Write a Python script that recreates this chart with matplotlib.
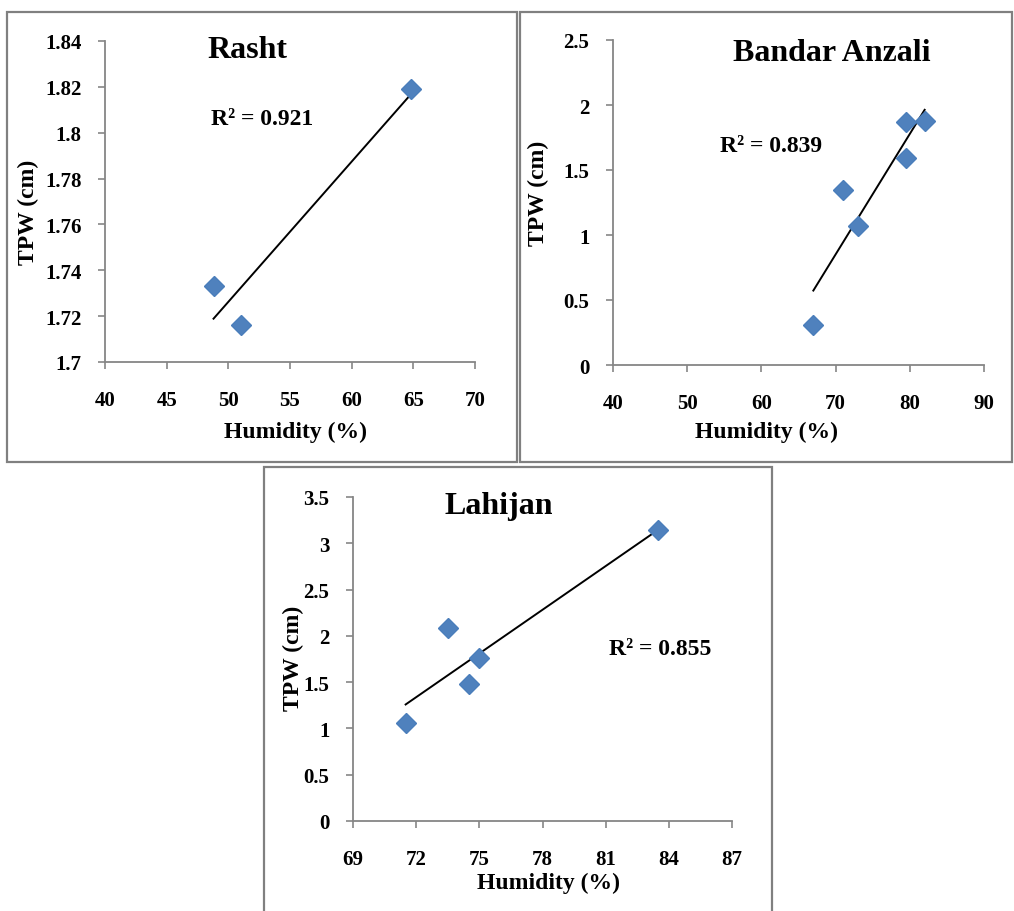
# coding=utf-8
# TPW vs humidity scatter panels with linear trendlines

import matplotlib
matplotlib.use('Agg')
import matplotlib.pyplot as plt
from matplotlib.patches import Rectangle
import numpy as np

plt.rcParams['font.family'] = ['Liberation Serif', 'DejaVu Serif']
plt.rcParams['font.weight'] = 'bold'

# data
rasht_hum = [48.8, 51.0, 64.8]
rasht_tpw = [1.733, 1.716, 1.819]

anzali_hum = [67.0, 71.0, 73.0, 79.5, 79.5, 82.0]
anzali_tpw = [0.31, 1.35, 1.07, 1.87, 1.59, 1.88]

lahijan_hum = [71.5, 73.5, 74.5, 75.0, 83.5]
lahijan_tpw = [1.06, 2.08, 1.48, 1.76, 3.14]

titles = ['Rasht', 'Bandar Anzali', 'Lahijan']
r2_labels = ['R² = 0.921', 'R² = 0.839', 'R² = 0.855']

rasht_xticks = [40, 45, 50, 55, 60, 65, 70]
rasht_yticks = [1.7, 1.72, 1.74, 1.76, 1.78, 1.8, 1.82, 1.84]
anzali_xticks = [40, 50, 60, 70, 80, 90]
anzali_yticks = [0, 0.5, 1, 1.5, 2, 2.5]
lahijan_xticks = [69, 72, 75, 78, 81, 84, 87]
lahijan_yticks = [0, 0.5, 1, 1.5, 2, 2.5, 3, 3.5]

W, H = 1014, 912
GRAY = '#868686'
BLUE = '#4F81BD'


def px_rect(x0, y0, x1, y1):
    """pixel box (top-left origin) -> figure fraction [l, b, w, h]"""
    return [x0 / W, 1 - y1 / H, (x1 - x0) / W, (y1 - y0) / H]


def draw_panel(fig, rect, hum, tpw, xticks, yticks, title, r2,
               title_pos, r2_pos, xlab_pos, ylab_pos):
    ax = fig.add_axes(rect)
    ax.plot(hum, tpw, linestyle='none', marker='D', markersize=10,
            color=BLUE, markeredgecolor='#4A7EBB', zorder=3)

    # linear trendline over the data range
    k, b = np.polyfit(hum, tpw, 1)
    xs = np.array([min(hum), max(hum)])
    ax.plot(xs, k * xs + b, color='black', lw=1.4, zorder=2)

    ax.set_xlim(xticks[0], xticks[-1])
    ax.set_ylim(yticks[0], yticks[-1])
    ax.set_xticks(xticks)
    ax.set_yticks(yticks)
    ax.set_xticklabels([('%g' % v) for v in xticks])
    ax.set_yticklabels([('%g' % v) for v in yticks])

    for s in ['top', 'right']:
        ax.spines[s].set_visible(False)
    for s in ['left', 'bottom']:
        ax.spines[s].set_color(GRAY)
        ax.spines[s].set_linewidth(1.3)
    ax.tick_params(axis='both', direction='out', length=5, width=1.2,
                   color=GRAY, labelsize=15)
    ax.tick_params(axis='x', pad=15)
    ax.tick_params(axis='y', pad=12)
    ax.patch.set_alpha(0)

    ax.text(title_pos[0], title_pos[1], title, transform=ax.transAxes,
            ha='center', va='center', fontsize=23, fontweight='bold')
    ax.text(r2_pos[0], r2_pos[1], r2, transform=ax.transAxes,
            ha='center', va='center', fontsize=17, fontweight='bold')
    ax.text(xlab_pos[0], xlab_pos[1], 'Humidity (%)', transform=ax.transAxes,
            ha='center', va='center', fontsize=17, fontweight='bold')
    ax.text(ylab_pos[0], ylab_pos[1], 'TPW (cm)', transform=ax.transAxes,
            ha='center', va='center', fontsize=17, fontweight='bold',
            rotation=90)
    return ax


fig = plt.figure(figsize=(W / 100, H / 100), dpi=100)

# outer gray frames of the three charts
for x0, y0, x1, y1 in [(7, 13, 517, 463), (520, 13, 1012, 463),
                       (264, 468, 772, 914)]:
    l, b, w, h = px_rect(x0, y0, x1, y1)
    fig.patches.append(Rectangle((l, b), w, h, transform=fig.transFigure,
                                 fill=False, edgecolor='#808080', lw=1.6))

draw_panel(fig, px_rect(105, 42, 475, 363), rasht_hum, rasht_tpw,
           rasht_xticks, rasht_yticks, titles[0], r2_labels[0],
           (0.384, 0.975), (0.424, 0.760), (0.514, -0.215), (-0.208, 0.47))
draw_panel(fig, px_rect(613, 41, 984, 366), anzali_hum, anzali_tpw,
           anzali_xticks, anzali_yticks, titles[1], r2_labels[1],
           (0.59, 0.963), (0.426, 0.674), (0.415, -0.203), (-0.202, 0.532))
draw_panel(fig, px_rect(353, 498, 732, 822), lahijan_hum, lahijan_tpw,
           lahijan_xticks, lahijan_yticks, titles[2], r2_labels[2],
           (0.385, 0.975), (0.81, 0.531), (0.517, -0.188), (-0.158, 0.506))

fig.savefig('out.png', dpi=100)
